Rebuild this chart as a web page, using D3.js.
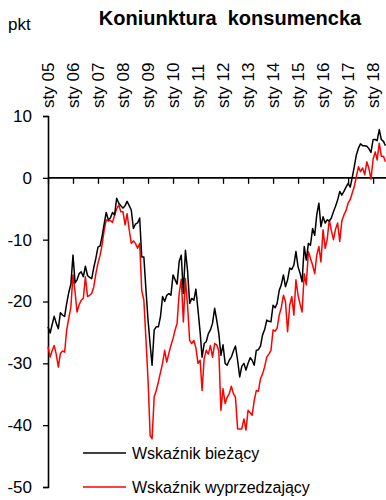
<!DOCTYPE html>
<html>
<head>
<meta charset="utf-8">
<script src="https://cdn.jsdelivr.net/npm/d3@7"></script>
<style>
  html, body { margin: 0; padding: 0; background: #fff; }
  svg { display: block; font-family: "Liberation Sans", Arial, sans-serif; }
</style>
</head>
<body>
<div id="chart"></div>
<script>
// Koniunktura konsumencka — monthly, sty 2005 .. lip 2018
const START = new Date(2005, 0, 1);
const TITLE = 'Koniunktura  konsumencka';
const UNIT = 'pkt';
const SERIES_NAMES = ['Wskaźnik bieżący', 'Wskaźnik wyprzedzający'];
const X_LABELS = ['sty 05', 'sty 06', 'sty 07', 'sty 08', 'sty 09', 'sty 10', 'sty 11',
  'sty 12', 'sty 13', 'sty 14', 'sty 15', 'sty 16', 'sty 17', 'sty 18'];
const Y_TICKS = [10, 0, -10, -20, -30, -40, -50];

// wskaźnik bieżący (BWUK)
const current = [
  -24.1, -25.1, -23.8, -22.4, -23.5, -24.4, -21.8, -22.2, -22.4, -20.3, -18.5, -17.2,
  -12.5, -17.0, -16.5, -15.5, -15.2, -16.0, -14.3, -15.8, -16.1, -16.3, -14.5, -13.0,
  -11.2, -11.0, -9.5, -7.5, -5.6, -6.8, -6.5, -5.6, -6.0, -3.3, -4.1, -4.5,
  -4.9, -4.5, -3.8, -4.5, -5.2, -8.2, -7.5, -7.3, -6.5, -12.8, -12.8, -18.0,
  -23.0, -27.0, -30.3, -24.6, -24.1, -24.1, -22.5, -19.2, -20.0, -19.0, -18.7, -19.0,
  -15.7, -16.5, -17.2, -13.5, -12.5, -18.7, -11.7, -15.0, -20.3, -19.5, -19.8, -18.0,
  -21.4, -25.0, -29.0, -26.8, -26.5, -25.2, -24.6, -23.5, -21.1, -23.0, -25.2, -28.7,
  -27.0, -30.0, -30.3, -29.5, -29.0, -28.0, -27.2, -29.5, -32.2, -30.5, -30.0, -31.1,
  -30.0, -29.1, -29.5, -30.3, -27.9, -27.8, -27.2, -25.4, -24.5, -23.0, -23.2, -23.3,
  -20.6, -21.0, -20.3, -18.2, -17.3, -15.7, -17.6, -16.5, -14.6, -14.8, -14.1, -11.9,
  -14.4, -15.5, -16.8, -11.1, -13.3, -10.6, -10.9, -8.2, -9.3, -6.0, -4.1, -7.9,
  -6.3, -7.3, -6.8, -7.0, -6.5, -5.5, -4.6, -3.6, -2.2, -2.8, -2.2, -1.5,
  -0.9, -1.5, 0.0, 1.8, 3.7, 4.8, 5.5, 5.2, 5.2, 5.1, 4.7, 4.1,
  6.2, 6.2, 6.0, 7.8, 6.2, 5.9, 5.2
];

// wskaźnik wyprzedzający (WWK)
const leading = [
  -27.3, -29.0, -28.0, -27.1, -28.5, -30.6, -28.4, -28.0, -28.2, -24.6, -22.7, -20.9,
  -15.7, -18.5, -21.7, -20.5, -19.8, -19.5, -16.0, -19.2, -19.0, -18.7, -17.6, -15.5,
  -13.8, -12.5, -10.9, -8.5, -6.8, -7.0, -6.9, -7.2, -6.0, -5.0, -4.4, -5.5,
  -5.5, -7.6, -5.8, -8.4, -10.6, -10.2, -10.6, -11.4, -10.6, -18.2, -19.8, -26.0,
  -32.7, -41.7, -42.2, -35.4, -34.4, -33.0, -31.5, -30.0, -27.9, -29.8, -28.4, -27.1,
  -26.0, -24.6, -23.5, -18.7, -16.4, -23.3, -16.3, -20.6, -26.3, -26.8, -26.3, -27.5,
  -30.0, -29.5, -34.4, -29.2, -27.9, -28.5, -27.1, -29.0, -26.8, -27.0, -28.0, -37.6,
  -34.1, -36.5, -35.5, -34.9, -33.7, -34.9, -35.5, -40.6, -40.6, -40.6, -39.0, -40.8,
  -37.6, -38.0, -38.4, -36.0, -34.4, -34.5, -32.5, -31.7, -30.5, -29.0, -28.5, -27.9,
  -24.6, -24.8, -24.3, -22.2, -21.0, -19.0, -20.0, -24.9, -20.6, -19.2, -22.2, -16.5,
  -19.0, -20.5, -21.7, -15.5, -17.3, -11.9, -13.0, -14.1, -15.5, -12.5, -11.1, -13.6,
  -8.4, -11.4, -10.0, -6.8, -8.5, -10.0, -8.3, -7.3, -10.3, -7.0, -6.0, -5.3,
  -4.1, -3.5, -2.5, -1.4, 0.2, 1.8, 1.0, 1.6, 0.5, 2.6, 1.5, -0.2,
  3.0, 4.2, 2.9, 5.6, 3.5, 3.5, 2.6
];

const W = 386, H = 500;
const months = current.map((_, i) => d3.timeMonth.offset(START, i));

const svg = d3.select('#chart').append('svg')
  .attr('width', W).attr('height', H);

const x = d3.scaleTime()
  .domain([START, d3.timeMonth.offset(START, 162)])
  .range([48, 385.5]);
const y = d3.scaleLinear().domain([-50, 10]).range([487, 116]);

// title + unit
svg.append('text')
  .attr('x', 230).attr('y', 25)
  .attr('text-anchor', 'middle')
  .attr('font-size', 20).attr('font-weight', 'bold')
  .style('white-space', 'pre')
  .text(TITLE);
svg.append('text')
  .attr('x', 8).attr('y', 30)
  .attr('font-size', 17)
  .text(UNIT);

// y axis
const yAxis = svg.append('g')
  .attr('transform', 'translate(48,0)')
  .call(d3.axisLeft(y).tickValues(Y_TICKS).tickSize(5).tickPadding(11).tickFormat(d3.format('d')));
yAxis.select('.domain').attr('stroke', '#000').attr('stroke-width', 1.6);
yAxis.selectAll('.tick line').attr('stroke', '#000').attr('stroke-width', 1.3);
yAxis.selectAll('text')
  .attr('font-size', 17).attr('fill', '#000')
  .style('font-family', '"Liberation Sans", Arial, sans-serif')
  .text(d => d < 0 ? '-' + Math.abs(d) : d);

// zero line with year ticks
const yearTicks = X_LABELS.map((_, i) => d3.timeYear.offset(START, i));
const xAxis = svg.append('g')
  .attr('transform', `translate(0,${y(0)})`)
  .call(d3.axisBottom(x).tickValues(yearTicks).tickSize(6).tickFormat(''));
xAxis.select('.domain').attr('stroke', '#000').attr('stroke-width', 1.6)
  .attr('d', `M48,0H${W}`);
xAxis.selectAll('.tick line').attr('stroke', '#000').attr('stroke-width', 1.3);

// rotated labels at the top
svg.append('g').selectAll('text')
  .data(X_LABELS)
  .join('text')
  .attr('transform', (d, i) => `translate(${x(yearTicks[i])},108) rotate(-90)`)
  .attr('dy', '0.35em')
  .attr('font-size', 17)
  .text(d => d);

// lines
const line = d3.line()
  .x((d, i) => x(months[i]))
  .y(d => y(d));

svg.append('path').datum(leading)
  .attr('fill', 'none').attr('stroke', '#ff0000').attr('stroke-width', 1.5)
  .attr('stroke-linejoin', 'round')
  .attr('d', line);
svg.append('path').datum(current)
  .attr('fill', 'none').attr('stroke', '#000').attr('stroke-width', 1.5)
  .attr('stroke-linejoin', 'round')
  .attr('d', line);

// legend
const legend = svg.append('g');
const colors = ['#000', '#ff0000'];
const legY = [453, 487];
SERIES_NAMES.forEach((name, i) => {
  legend.append('line')
    .attr('x1', 83).attr('x2', 126)
    .attr('y1', legY[i]).attr('y2', legY[i])
    .attr('stroke', colors[i]).attr('stroke-width', 1.5);
  legend.append('text')
    .attr('x', 132).attr('y', legY[i] + 6)
    .attr('font-size', 16)
    .text(name);
});
</script>
</body>
</html>
